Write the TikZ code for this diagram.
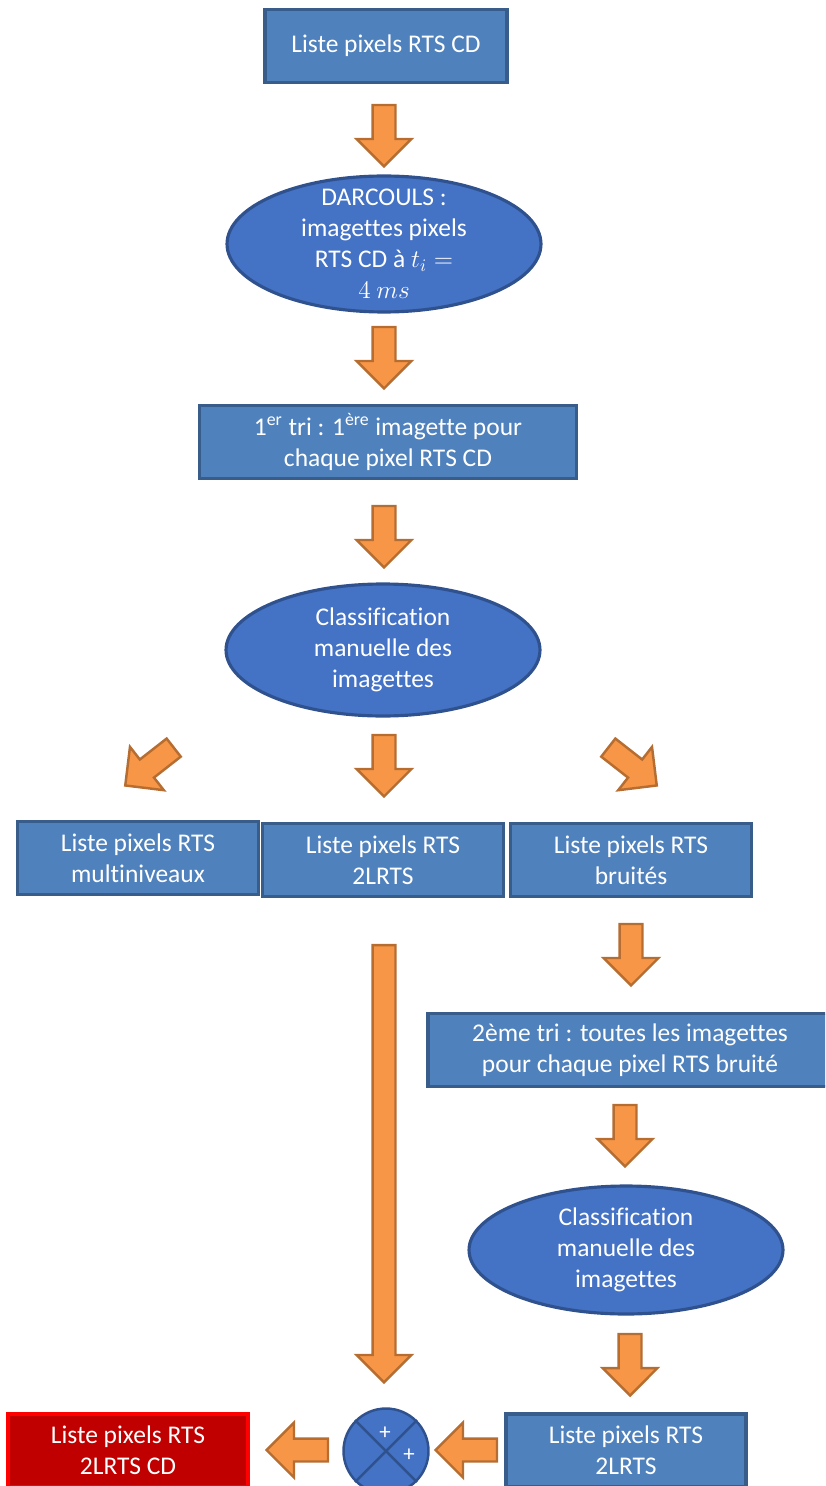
\documentclass[tikz,border=0pt]{standalone}
\usepackage{fontspec}
\setmainfont{Carlito}[Ligatures={NoCommon,NoRequired,NoContextual}]
\usetikzlibrary{shapes.geometric,shapes.arrows}
\definecolor{bleuboite}{HTML}{4F81BD}
\definecolor{bleubord}{HTML}{385D8A}
\definecolor{bleuovale}{HTML}{4472C4}
\definecolor{ovalebord}{HTML}{2F528F}
\definecolor{orange}{HTML}{F79646}
\definecolor{orangebord}{HTML}{B66D31}
\definecolor{rougefonce}{HTML}{C00000}
\begin{document}
\begin{tikzpicture}[x=0.02cm, y=-0.02cm,
  font=\fontsize{14.5}{17.6}\selectfont,
  bloc/.style={
    draw=bleubord, fill=bleuboite,
    line width=1.8pt,
    minimum width=#1,
    minimum height=1.46cm,
    align=center,
    text=white,
    inner sep=0pt
  },
  bloc/.default=4.82cm,
  ovale/.style={
    ellipse, draw=ovalebord, fill=bleuovale,
    line width=1.8pt,
    minimum width=6.28cm,
    minimum height=#1,
    inner sep=0pt
  },
  ovale/.default=2.64cm,
  txt/.style={align=center, text=white, inner sep=0pt},
  fl/.style={
    single arrow, draw=orangebord, fill=orange,
    line width=1.4pt,
    minimum height=#1,
    inner xsep=0pt, inner ysep=0.205cm,
    single arrow head extend=0.32cm
  },
  fl/.default=1.23cm,
  somme/.style={circle, draw=ovalebord, fill=bleuovale, line width=1.4pt,
    minimum size=1.7cm, inner sep=0pt},
  plus/.style={text=white, font=\fontsize{13}{13}\selectfont, inner sep=0pt}
]
  \useasboundingbox (0,0) rectangle (825,1486);
  \clip (0,0) rectangle (825,1486);
  % Colonne principale
  \node[bloc=4.84cm] (liste) at (386,46) {Liste pixels RTS CD};
  \node[fl, rotate=-90] (f1) at (384,130) {};
  \node[ovale=2.72cm] (darc) at (384,244) {};
  \node[txt] (darct) at (darc) {DARCOULS :\\imagettes pixels\\RTS CD à $t_i =$\\$4\ ms$};
  \node[fl, rotate=-90] (f2) at (384,352) {};
  \node[bloc=7.54cm] (tri1) at (388,442)
        {1\textsuperscript{er} tri : 1\textsuperscript{ère} imagette pour\\chaque pixel RTS CD};
  \node[fl, rotate=-90] (f3) at (384,531) {};
  \node[ovale] (classif) at (383,650) {};
  \node[txt] (classift) at (classif) {Classification\\manuelle des\\imagettes};
  % Trois listes
  \node[fl, rotate=218] (f4) at (154,763) {};
  \node[fl, rotate=-90] (f5) at (384,760) {};
  \node[fl, rotate=-38] (f6) at (628,763) {};
  \node[bloc] (multi) at (138,858) {Liste pixels RTS\\multiniveaux};
  \node[bloc] (deux)  at (383,860) {Liste pixels RTS\\2LRTS};
  \node[bloc] (bruit) at (631,860) {Liste pixels RTS\\bruités};
  \node[fl=8.75cm, rotate=-90] (f7) at (384,1158) {};
  % Colonne droite
  \node[fl, rotate=-90] (f8) at (631,949) {};
  \node[bloc=8.08cm] (tri2) at (630,1050)
        {2ème tri : toutes les imagettes\\pour chaque pixel RTS bruité};
  \node[fl, rotate=-90] (f9) at (625,1130) {};
  \node[ovale=2.56cm] (classif2) at (626,1250) {};
  \node[txt] (classif2t) at (classif2) {Classification\\manuelle des\\imagettes};
  \node[fl, rotate=-90] (f10) at (630,1359) {};
  \node[bloc=4.8cm] (deux2) at (626,1450.5) {Liste pixels RTS\\2LRTS};
  % Somme
  \node[somme] (sum) at (386,1451) {};
  \draw[ovalebord, line width=1.4pt] (sum.45) -- (sum.225) (sum.135) -- (sum.-45);
  \node[plus] (p1) at (385,1433) {+};
  \node[plus] (p2) at (409,1455) {+};
  \node[fl, rotate=180] (f11) at (472,1450) {};
  \node[fl, rotate=180] (f12) at (303,1450) {};
  \node[bloc=4.8cm, draw=red, fill=rougefonce] (res) at (128,1450.5) {Liste pixels RTS\\2LRTS CD};
\end{tikzpicture}
\end{document}
